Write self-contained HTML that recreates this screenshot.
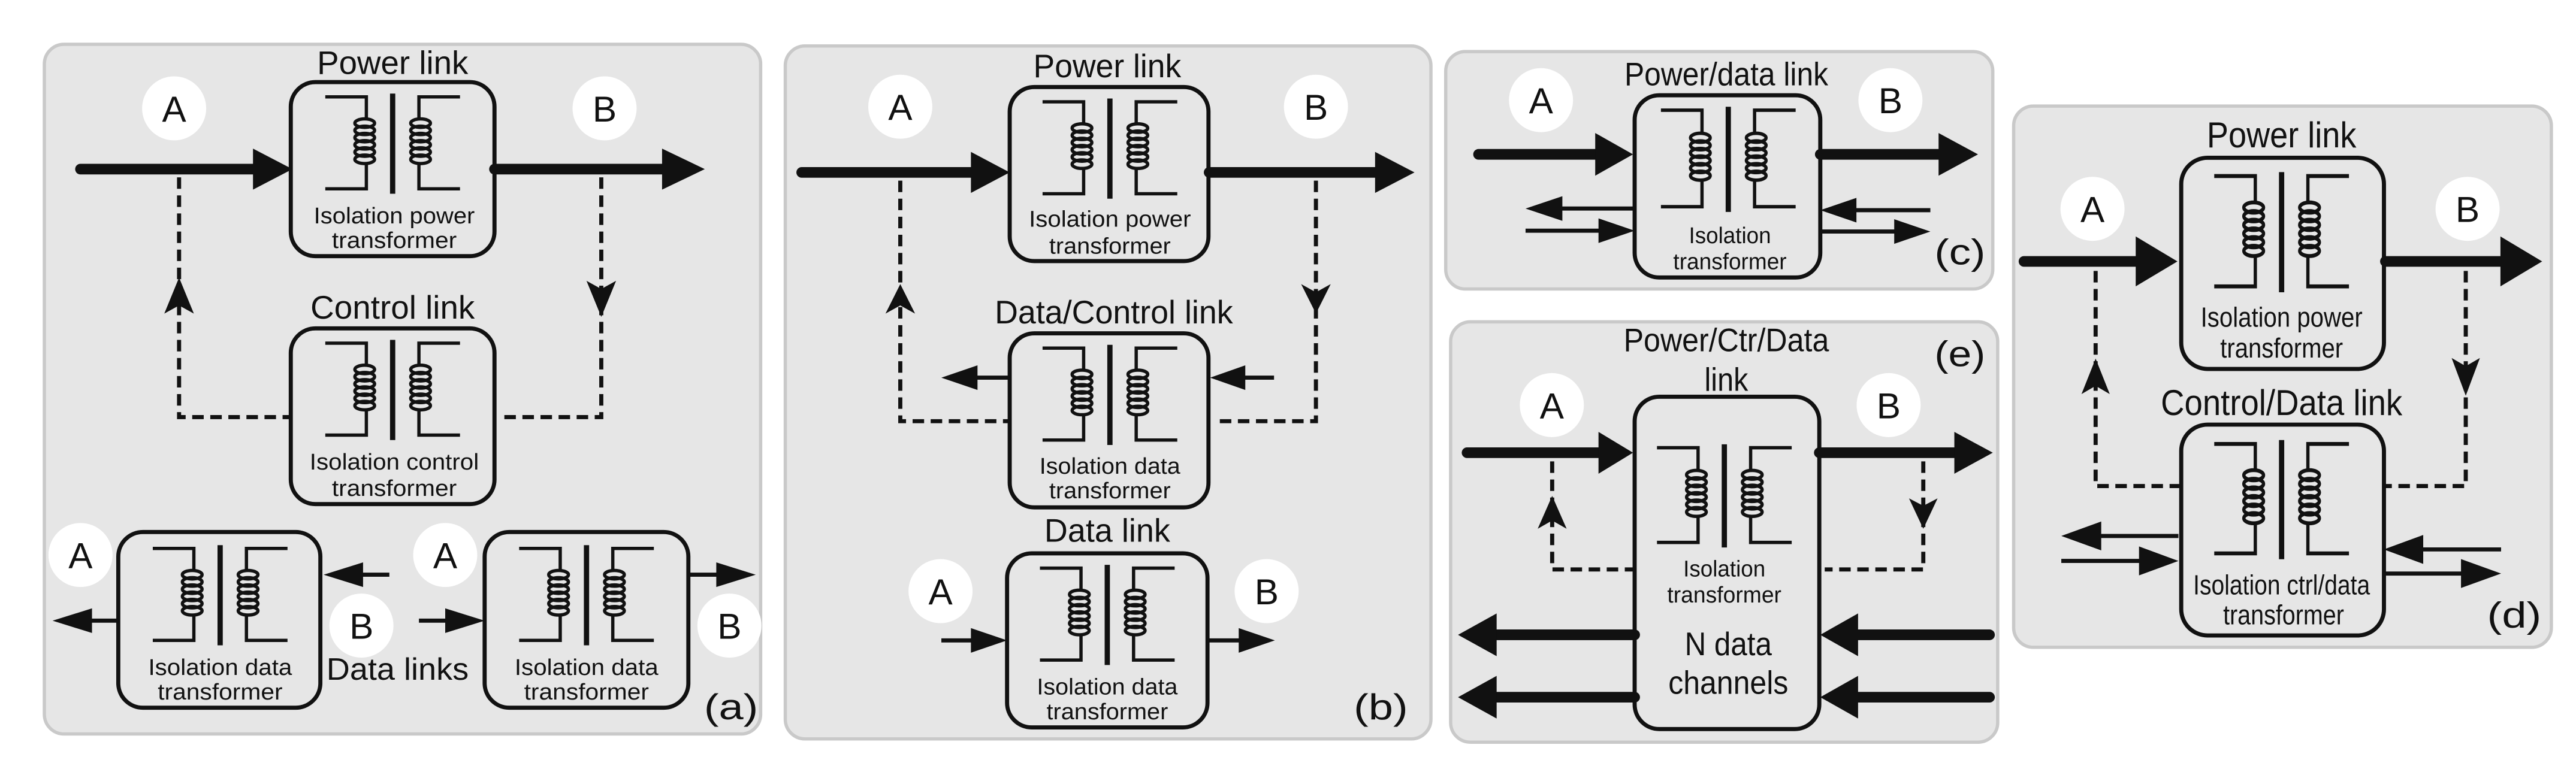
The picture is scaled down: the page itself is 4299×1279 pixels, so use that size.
<!DOCTYPE html>
<html><head><meta charset="utf-8"><style>
html,body{margin:0;padding:0;background:#fff;}
svg{display:block;}
text{font-family:"Liberation Sans",Arial,sans-serif;fill:#111;text-anchor:middle;}
.t{font-size:14px;}
.h{font-size:20px;}
.l{font-size:22px;}
.p{fill:#e6e6e6;stroke:#c9c9c9;stroke-width:2;}
.b{fill:none;stroke:#111;stroke-width:2.5;}
.k{stroke:#111;stroke-width:6.5;stroke-linecap:round;fill:none;}
.n{stroke:#111;stroke-width:2.5;fill:none;}
.d{stroke:#111;stroke-width:2.5;fill:none;stroke-dasharray:7 4;}
.c{fill:#fff;}
polygon{fill:#111;}
</style></head><body>
<svg width="4299" height="1279" viewBox="0 0 1568 466.5" preserveAspectRatio="none" xmlns="http://www.w3.org/2000/svg">
<defs>
<g id="tx" fill="none" stroke="#111">
<path d="M-41 2 H-16 V15.5 M-16 42.5 V58 H-41" stroke-width="2"/>
<path d="M41 2 H16 V15.5 M16 42.5 V58 H41" stroke-width="2"/>
<path d="M0 0 V61" stroke-width="3.2"/>
<g stroke-width="2">
<ellipse cx="-17" cy="18" rx="6" ry="2.6"/>
<ellipse cx="-17" cy="22.4" rx="6" ry="2.6"/>
<ellipse cx="-17" cy="26.8" rx="6" ry="2.6"/>
<ellipse cx="-17" cy="31.2" rx="6" ry="2.6"/>
<ellipse cx="-17" cy="35.6" rx="6" ry="2.6"/>
<ellipse cx="-17" cy="40" rx="6" ry="2.6"/>
<ellipse cx="17" cy="18" rx="6" ry="2.6"/>
<ellipse cx="17" cy="22.4" rx="6" ry="2.6"/>
<ellipse cx="17" cy="26.8" rx="6" ry="2.6"/>
<ellipse cx="17" cy="31.2" rx="6" ry="2.6"/>
<ellipse cx="17" cy="35.6" rx="6" ry="2.6"/>
<ellipse cx="17" cy="40" rx="6" ry="2.6"/>
</g>
</g>
</defs>

<!-- Panel (a) -->
<rect class="p" x="27" y="27" width="436" height="420" rx="12"/>
<text class="h" x="239" y="45" textLength="92" lengthAdjust="spacingAndGlyphs">Power link</text>
<rect class="b" x="177" y="50" width="124" height="106" rx="15"/>
<use href="#tx" transform="translate(239,57)"/>
<text class="t" x="240" y="136" textLength="98" lengthAdjust="spacingAndGlyphs">Isolation power</text>
<text class="t" x="240" y="151" textLength="76" lengthAdjust="spacingAndGlyphs">transformer</text>
<circle class="c" cx="106" cy="66" r="19.5"/><text class="l" x="106" y="74">A</text>
<circle class="c" cx="368" cy="66" r="19.5"/><text class="l" x="368" y="74">B</text>
<line class="k" x1="49" y1="103" x2="156" y2="103"/><polygon points="154,90.5 178,103 154,115.5"/>
<line class="k" x1="301" y1="103" x2="405" y2="103"/><polygon points="403,90.5 429,103 403,115.5"/>
<path class="d" d="M109 108 V254 H177"/><polygon points="100,191 109,169 118,191 109,186"/>
<path class="d" d="M366 108 V254 H306"/><polygon points="357,171 366,193 375,171 366,176"/>
<text class="h" x="239" y="194" textLength="100" lengthAdjust="spacingAndGlyphs">Control link</text>
<rect class="b" x="177" y="200" width="124" height="107" rx="15"/>
<use href="#tx" transform="translate(239,207)"/>
<text class="t" x="240" y="286" textLength="103" lengthAdjust="spacingAndGlyphs">Isolation control</text>
<text class="t" x="240" y="302" textLength="76" lengthAdjust="spacingAndGlyphs">transformer</text>
<rect class="b" x="72" y="324" width="123" height="107" rx="15"/>
<use href="#tx" transform="translate(134,332)"/>
<text class="t" x="134" y="411" textLength="87.5" lengthAdjust="spacingAndGlyphs">Isolation data</text>
<text class="t" x="134" y="426" textLength="76" lengthAdjust="spacingAndGlyphs">transformer</text>
<rect class="b" x="295" y="324" width="124" height="107" rx="15"/>
<use href="#tx" transform="translate(357,332)"/>
<text class="t" x="357" y="411" textLength="87.5" lengthAdjust="spacingAndGlyphs">Isolation data</text>
<text class="t" x="357" y="426" textLength="76" lengthAdjust="spacingAndGlyphs">transformer</text>
<line class="n" x1="72" y1="378" x2="50" y2="378"/><polygon points="56,370.5 32,378 56,385.5"/>
<line class="n" x1="237" y1="350" x2="215" y2="350"/><polygon points="221,342.5 197,350 221,357.5"/>
<line class="n" x1="255" y1="378" x2="277" y2="378"/><polygon points="271,370.5 295,378 271,385.5"/>
<line class="n" x1="419" y1="350" x2="440" y2="350"/><polygon points="436,342.5 460,350 436,357.5"/>
<circle class="c" cx="49" cy="338" r="19.5"/><text class="l" x="49" y="346">A</text>
<circle class="c" cx="271" cy="338" r="19.5"/><text class="l" x="271" y="346">A</text>
<circle class="c" cx="220" cy="381" r="19.5"/><text class="l" x="220" y="389">B</text>
<circle class="c" cx="444" cy="381" r="19.5"/><text class="l" x="444" y="389">B</text>
<text x="242" y="414" style="font-size:19px" textLength="86.6" lengthAdjust="spacingAndGlyphs">Data links</text>
<text class="l" x="445" y="438" textLength="33" lengthAdjust="spacingAndGlyphs">(a)</text>

<!-- Panel (b) -->
<rect class="p" x="478" y="28" width="393" height="422" rx="12"/>
<text class="h" x="674" y="47" textLength="90" lengthAdjust="spacingAndGlyphs">Power link</text>
<rect class="b" x="614.6" y="53" width="121" height="106" rx="15"/>
<use href="#tx" transform="translate(675.6,60)"/>
<text class="t" x="675.6" y="138" textLength="98.6" lengthAdjust="spacingAndGlyphs">Isolation power</text>
<text class="t" x="675.6" y="154.5" textLength="74" lengthAdjust="spacingAndGlyphs">transformer</text>
<circle class="c" cx="548" cy="65" r="19.5"/><text class="l" x="548" y="73">A</text>
<circle class="c" cx="801" cy="65" r="19.5"/><text class="l" x="801" y="73">B</text>
<line class="k" x1="488" y1="105" x2="593" y2="105"/><polygon points="591,92.5 614.6,105 591,117.5"/>
<line class="k" x1="736" y1="105" x2="839" y2="105"/><polygon points="837,92.5 861,105 837,117.5"/>
<path class="d" d="M548 110 V256.5 H614"/><polygon points="539,191 548,173 557,191 548,186"/>
<path class="d" d="M801 110 V256.5 H740"/><polygon points="792,173 801,191 810,173 801,178"/>
<text class="h" x="678" y="197" textLength="145" lengthAdjust="spacingAndGlyphs">Data/Control link</text>
<rect class="b" x="614.6" y="203" width="121" height="106" rx="15"/>
<use href="#tx" transform="translate(675.6,210)"/>
<text class="t" x="675.6" y="288.5" textLength="85.7" lengthAdjust="spacingAndGlyphs">Isolation data</text>
<text class="t" x="675.6" y="303.5" textLength="74" lengthAdjust="spacingAndGlyphs">transformer</text>
<line class="n" x1="614" y1="230" x2="590" y2="230"/><polygon points="595,222.5 573,230 595,237.5"/>
<line class="n" x1="775.5" y1="230" x2="752" y2="230"/><polygon points="758,222.5 736.6,230 758,237.5"/>
<text class="h" x="674" y="330" textLength="76.6" lengthAdjust="spacingAndGlyphs">Data link</text>
<rect class="b" x="613" y="337" width="122" height="106" rx="15"/>
<use href="#tx" transform="translate(674,344)"/>
<text class="t" x="674" y="423" textLength="85.7" lengthAdjust="spacingAndGlyphs">Isolation data</text>
<text class="t" x="674" y="438" textLength="74" lengthAdjust="spacingAndGlyphs">transformer</text>
<circle class="c" cx="572.5" cy="360" r="19.5"/><text class="l" x="572.5" y="368">A</text>
<circle class="c" cx="771" cy="360" r="19.5"/><text class="l" x="771" y="368">B</text>
<line class="n" x1="573" y1="390" x2="596" y2="390"/><polygon points="591,382.5 613,390 591,397.5"/>
<line class="n" x1="735" y1="390" x2="758" y2="390"/><polygon points="754,382.5 776,390 754,397.5"/>
<text class="l" x="840.5" y="438" textLength="33" lengthAdjust="spacingAndGlyphs">(b)</text>

<!-- Panel (c) -->
<rect class="p" x="880" y="31.4" width="333" height="144.6" rx="12"/>
<text class="h" x="1050.8" y="52" textLength="124" lengthAdjust="spacingAndGlyphs">Power/data link</text>
<rect class="b" x="995" y="58" width="113" height="111" rx="15"/>
<use href="#tx" transform="translate(1052,65) scale(1,1.05)"/>
<text class="t" x="1053" y="148" textLength="50" lengthAdjust="spacingAndGlyphs">Isolation</text>
<text class="t" x="1053" y="164" textLength="69" lengthAdjust="spacingAndGlyphs">transformer</text>
<circle class="c" cx="938" cy="61" r="19.5"/><text class="l" x="938" y="69">A</text>
<circle class="c" cx="1150.7" cy="61" r="19.5"/><text class="l" x="1150.7" y="69">B</text>
<line class="k" x1="900" y1="94" x2="973" y2="94"/><polygon points="971,81 994,94 971,107"/>
<line class="k" x1="1108" y1="94" x2="1182" y2="94"/><polygon points="1180,81 1204,94 1180,107"/>
<line class="n" x1="995" y1="127" x2="945" y2="127"/><polygon points="951,119.5 928.6,127 951,134.5"/>
<line class="n" x1="928.6" y1="140.5" x2="975" y2="140.5"/><polygon points="973,133 995,140.5 973,148"/>
<line class="n" x1="1175" y1="128" x2="1128" y2="128"/><polygon points="1130,120.5 1108,128 1130,135.5"/>
<line class="n" x1="1108" y1="141" x2="1155" y2="141"/><polygon points="1153,133.5 1175,141 1153,148.5"/>
<text class="l" x="1193" y="161" textLength="31" lengthAdjust="spacingAndGlyphs">(c)</text>

<!-- Panel (e) -->
<rect class="p" x="883" y="196" width="333" height="256" rx="12"/>
<text class="h" x="1050.8" y="214" textLength="125" lengthAdjust="spacingAndGlyphs">Power/Ctr/Data</text>
<text class="h" x="1050.8" y="238" textLength="26.6" lengthAdjust="spacingAndGlyphs">link</text>
<text class="l" x="1193" y="223" textLength="31" lengthAdjust="spacingAndGlyphs">(e)</text>
<rect class="b" x="995" y="241.6" width="112.4" height="202.4" rx="15"/>
<use href="#tx" transform="translate(1049.6,270.6) scale(1,1.03)"/>
<circle class="c" cx="944.6" cy="246.7" r="19.5"/><text class="l" x="944.6" y="254.7">A</text>
<circle class="c" cx="1149.6" cy="246.7" r="19.5"/><text class="l" x="1149.6" y="254.7">B</text>
<line class="k" x1="893" y1="275.7" x2="975" y2="275.7"/><polygon points="973,263 994,275.7 973,288.5"/>
<line class="k" x1="1107.4" y1="275.7" x2="1191" y2="275.7"/><polygon points="1189.6,263 1213,275.7 1189.6,288.5"/>
<path class="d" d="M944.8 281 V346.8 H994"/><polygon points="936,322 944.8,302 953.6,322 944.8,317"/>
<path class="d" d="M1170.7 281 V346.8 H1110.7"/><polygon points="1162,303.5 1170.7,322 1179.4,303.5 1170.7,308"/>
<text class="t" x="1049.6" y="351" textLength="50" lengthAdjust="spacingAndGlyphs">Isolation</text>
<text class="t" x="1049.6" y="367" textLength="69.5" lengthAdjust="spacingAndGlyphs">transformer</text>
<text class="h" x="1052" y="399" textLength="53" lengthAdjust="spacingAndGlyphs">N data</text>
<text class="h" x="1052" y="422.5" textLength="73" lengthAdjust="spacingAndGlyphs">channels</text>
<line class="k" x1="995" y1="386.6" x2="908" y2="386.6"/><polygon points="911,373.6 887.5,386.6 911,399.6"/>
<line class="k" x1="995" y1="424.6" x2="908" y2="424.6"/><polygon points="911,411.6 887.5,424.6 911,437.6"/>
<line class="k" x1="1211" y1="386.6" x2="1128" y2="386.6"/><polygon points="1131,373.6 1108,386.6 1131,399.6"/>
<line class="k" x1="1211" y1="424.6" x2="1128" y2="424.6"/><polygon points="1131,411.6 1108,424.6 1131,437.6"/>

<!-- Panel (d) -->
<rect class="p" x="1225.7" y="64.6" width="327.3" height="329.6" rx="12"/>
<text class="l" x="1388.8" y="89.8" textLength="91" lengthAdjust="spacingAndGlyphs">Power link</text>
<rect class="b" x="1327.7" y="96.1" width="123.4" height="128.6" rx="16"/>
<use href="#tx" transform="translate(1388.8,104.8) scale(1,1.2)"/>
<text x="1388.8" y="199" style="font-size:17px" textLength="98.5" lengthAdjust="spacingAndGlyphs">Isolation power</text>
<text x="1388.8" y="217.7" style="font-size:17px" textLength="74.7" lengthAdjust="spacingAndGlyphs">transformer</text>
<circle class="c" cx="1273.7" cy="127.2" r="19.5"/><text class="l" x="1273.7" y="135.2">A</text>
<circle class="c" cx="1502" cy="127.2" r="19.5"/><text class="l" x="1502" y="135.2">B</text>
<line class="k" x1="1232" y1="159.2" x2="1302" y2="159.2"/><polygon points="1300,144 1325.4,159.2 1300,174.4"/>
<line class="k" x1="1452" y1="159.2" x2="1524" y2="159.2"/><polygon points="1522,144 1547.4,159.2 1522,174.4"/>
<path class="d" d="M1275.6 165 V296 H1326.5"/><polygon points="1267,240 1275.6,218.4 1284.2,240 1275.6,235"/>
<path class="d" d="M1500.9 165 V296 H1451"/><polygon points="1492.3,218 1500.9,241 1509.5,218 1500.9,223"/>
<text class="l" x="1388.8" y="252.8" textLength="147" lengthAdjust="spacingAndGlyphs">Control/Data link</text>
<rect class="b" x="1327.7" y="258.6" width="123.4" height="128.4" rx="16"/>
<use href="#tx" transform="translate(1388.8,268) scale(1,1.19)"/>
<text x="1388.8" y="362" style="font-size:17px" textLength="107.6" lengthAdjust="spacingAndGlyphs">Isolation ctrl/data</text>
<text x="1390" y="380.2" style="font-size:17px" textLength="73.6" lengthAdjust="spacingAndGlyphs">transformer</text>
<line class="n" x1="1326" y1="326.4" x2="1270" y2="326.4"/><polygon points="1279,317.6 1254.7,326.4 1279,335.2"/>
<line class="n" x1="1254.7" y1="341.6" x2="1305" y2="341.6"/><polygon points="1302,332.8 1326,341.6 1302,350.4"/>
<line class="n" x1="1522.4" y1="334.6" x2="1470" y2="334.6"/><polygon points="1475,325.8 1451,334.6 1475,343.4"/>
<line class="n" x1="1451" y1="349.3" x2="1500" y2="349.3"/><polygon points="1498,340.5 1522.4,349.3 1498,358.1"/>
<text class="l" x="1530.4" y="382" textLength="33" lengthAdjust="spacingAndGlyphs">(d)</text>
</svg>
</body></html>
